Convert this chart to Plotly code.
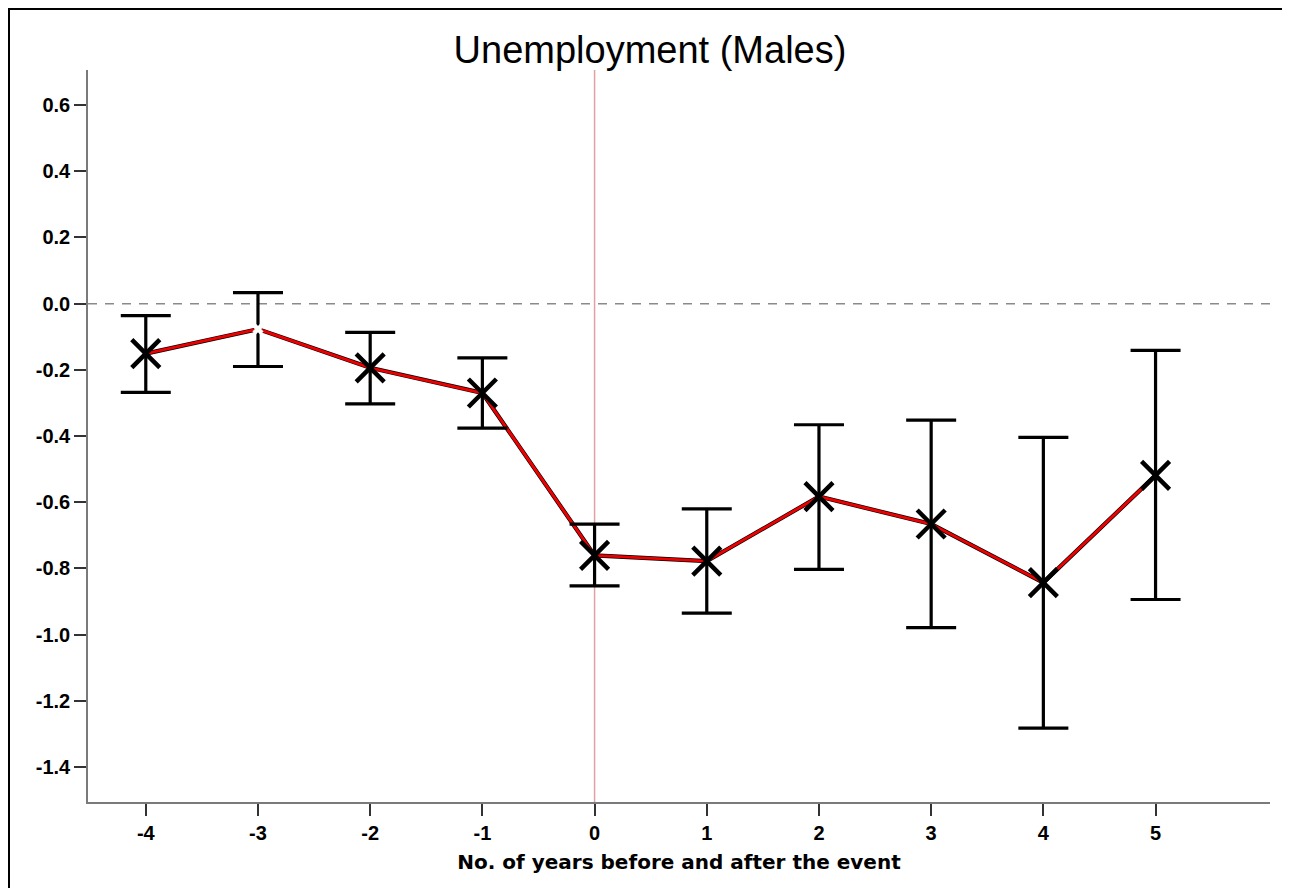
import plotly.graph_objects as go

years = [-4, -3, -2, -1, 0, 1, 2, 3, 4, 5]
estimate = [-0.151, -0.077, -0.194, -0.270, -0.761, -0.778, -0.583, -0.666, -0.843, -0.519]
ci_upper = [-0.036, 0.033, -0.087, -0.164, -0.666, -0.620, -0.366, -0.352, -0.404, -0.141]
ci_lower = [-0.268, -0.190, -0.303, -0.376, -0.853, -0.935, -0.803, -0.979, -1.283, -0.894]

y_ticks = [0.6, 0.4, 0.2, 0.0, -0.2, -0.4, -0.6, -0.8, -1.0, -1.2, -1.4]
y_tick_labels = ["0.6", "0.4", "0.2", "0.0", "-0.2", "-0.4", "-0.6", "-0.8", "-1.0", "-1.2", "-1.4"]
x_tick_labels = ["-4", "-3", "-2", "-1", "0", "1", "2", "3", "4", "5"]

title_text = "Unemployment (Males)"
x_title = "No. of years before and after the event"

# page body adds an 8px offset; size the figure so the plot lands where the reference has it
OFF = 8
W, H = 1290 - OFF, 888 - OFF
ml, mr, mt, mb = 88 - OFF, 20, 70 - OFF, 86
pw, ph = W - ml - mr, H - mt - mb

err_plus = [u - e for u, e in zip(ci_upper, estimate)]
err_minus = [e - l for e, l in zip(estimate, ci_lower)]

marker_colors = ["#000000" if v != -3 else "#ffffff" for v in years]
marker_sizes = [28 if v != -3 else 8 for v in years]

fig = go.Figure()

# black outline of the line
fig.add_trace(go.Scatter(x=years, y=estimate, mode="lines",
                         line=dict(color="black", width=4.2), hoverinfo="skip", showlegend=False))
# red line
fig.add_trace(go.Scatter(x=years, y=estimate, mode="lines",
                         line=dict(color="#ee0000", width=2.9), hoverinfo="skip", showlegend=False))
# error bars
fig.add_trace(go.Scatter(x=years, y=estimate, mode="markers",
                         marker=dict(size=0.1, color="rgba(0,0,0,0)"),
                         error_y=dict(type="data", symmetric=False, array=err_plus, arrayminus=err_minus,
                                      color="black", thickness=3.2, width=25),
                         showlegend=False))
# markers
fig.add_trace(go.Scatter(x=years, y=estimate, mode="markers", opacity=1,
                         marker=dict(symbol="x-thin", size=marker_sizes, opacity=1,
                                     line=dict(color=marker_colors, width=4.5), color=marker_colors),
                         showlegend=False))

# zero reference line (dashed)
fig.add_shape(type="line", xref="paper", yref="y", x0=0, x1=1, y0=0, y1=0,
              line=dict(color="#8a8a8a", width=1.5, dash="9px,8px"), layer="below")
# event line at x=0
fig.add_shape(type="line", xref="x", yref="paper", x0=0, x1=0, y0=0, y1=1,
              line=dict(color="#e0a0a4", width=1.5), layer="below")
# outer border (pixel positions relative to the figure)
fig.add_shape(type="rect", xref="paper", yref="paper",
              x0=(1 - ml) / pw, x1=(W - 2 - ml) / pw,
              y0=(H - mb - (H + 20)) / ph, y1=(H - mb - 1) / ph,
              line=dict(color="black", width=2), fillcolor="rgba(0,0,0,0)")

fig.update_layout(
    width=W, height=H,
    margin=dict(l=ml, r=mr, t=mt, b=mb),
    paper_bgcolor="white", plot_bgcolor="white",
    showlegend=False,
    title=dict(text=title_text, x=(650 - OFF) / W, xanchor="center", xref="container",
               y=1 - (50 - OFF) / H, yanchor="middle", yref="container",
               font=dict(family="Liberation Sans, Arial", size=38, color="black")),
    xaxis=dict(range=[-4.515, 6.02], tickvals=years, ticktext=x_tick_labels,
               showgrid=False, zeroline=False, showline=True, linecolor="#7a7a7a", linewidth=1.5,
               ticks="outside", ticklen=12, tickwidth=2, tickcolor="#333333",
               tickfont=dict(family="Liberation Sans, Arial", size=20, color="black", weight="bold"),
               title=dict(text=x_title, standoff=12,
                          font=dict(family="DejaVu Sans", size=20, color="black", weight="bold"))),
    yaxis=dict(range=[-1.506, 0.706], tickvals=y_ticks, ticktext=y_tick_labels,
               showgrid=False, zeroline=False, showline=True, linecolor="#7a7a7a", linewidth=1.5,
               ticks="outside", ticklen=12, tickwidth=2, tickcolor="#333333",
               tickfont=dict(family="Liberation Sans, Arial", size=20, color="black", weight="bold")),
)

fig.write_html("out.html")
